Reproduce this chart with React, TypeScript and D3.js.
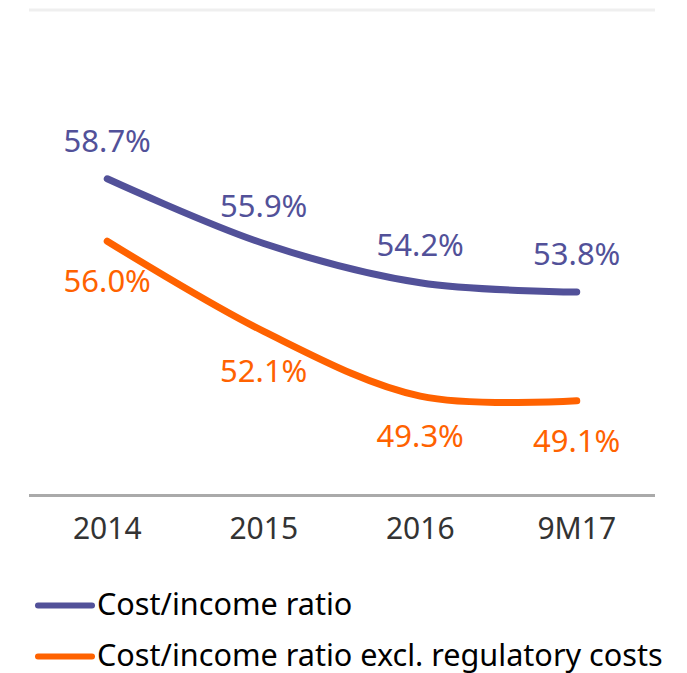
import React from "react";
import * as d3 from "d3";

const categories = ["2014", "2015", "2016", "9M17"];
const costIncome = [58.7, 55.9, 54.2, 53.8];
const costIncomeExcl = [56.0, 52.1, 49.3, 49.1];
const seriesNames = ["Cost/income ratio", "Cost/income ratio excl. regulatory costs"];

const W = 687;
const H = 673;
const PURPLE = "#525199";
const ORANGE = "#ff6200";
const FONT = "'Noto Sans', sans-serif";

export default function App() {
  const x = d3.scalePoint<string>().domain(categories).range([29, 655]).padding(0.5);
  const y = d3.scaleLinear().domain([45, 66]).range([495.5, 10]);

  const line = d3
    .line<number>()
    .x((_, i) => x(categories[i]) as number)
    .y((d) => y(d))
    .curve(d3.curveCatmullRom.alpha(0.5));

  const series = [
    { name: seriesNames[0], values: costIncome, color: PURPLE, dy: -27 },
    { name: seriesNames[1], values: costIncomeExcl, color: ORANGE, dy: 51 },
  ];

  return (
    <svg
      width={W}
      height={H}
      style={{ position: "absolute", left: 0, top: 0, background: "#fff" }}
      fontFamily={FONT}
    >
      <line x1={29} x2={655} y1={y(66)} y2={y(66)} stroke="#efefef" strokeWidth={3} />
      <line x1={29} x2={655} y1={y(45)} y2={y(45)} stroke="#aaaaaa" strokeWidth={3} />
      {categories.map((c) => (
        <text key={c} x={x(c)} y={539} textAnchor="middle" fontSize={30} fill="#333">
          {c}
        </text>
      ))}
      {series.map((s) => (
        <g key={s.name}>
          <path
            d={line(s.values) || ""}
            fill="none"
            stroke={s.color}
            strokeWidth={7}
            strokeLinecap="round"
            strokeLinejoin="round"
          />
          {s.values.map((v, i) => (
            <text
              key={i}
              x={x(categories[i])}
              y={y(v) + s.dy}
              textAnchor="middle"
              fontSize={31}
              fill={s.color}
            >
              {v.toFixed(1) + "%"}
            </text>
          ))}
        </g>
      ))}
      {series.map((s, i) => (
        <g key={"leg" + i} transform={`translate(0, ${605.5 + i * 51})`}>
          <line x1={38} x2={92} y1={0} y2={0} stroke={s.color} strokeWidth={6} strokeLinecap="round" />
          <text x={97} y={9} fontSize={30.6} fill="#000">
            {s.name}
          </text>
        </g>
      ))}
    </svg>
  );
}
